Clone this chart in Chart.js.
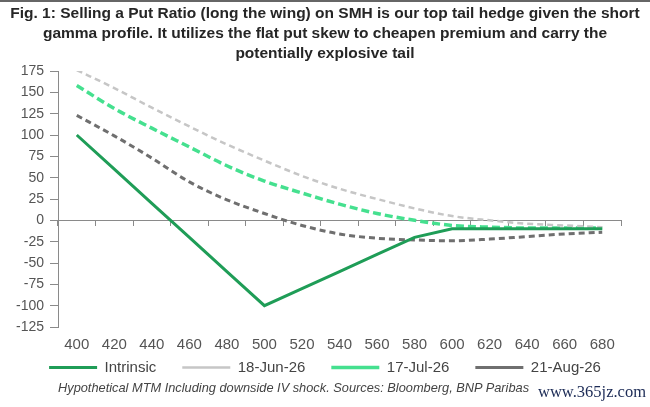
<!DOCTYPE html>
<html><head><meta charset="utf-8">
<script src="https://cdn.jsdelivr.net/npm/chart.js@4.4.1/dist/chart.umd.min.js"></script>
<style>
html,body{margin:0;padding:0;background:#fff;width:650px;height:407px;overflow:hidden;font-family:"Liberation Sans",Arial,sans-serif;}
#topbar{position:absolute;left:0;top:0;width:650px;height:2px;background:#666;}
#title{position:absolute;left:0;top:3px;width:650px;text-align:center;font-weight:bold;font-size:15.5px;line-height:20px;color:#262626;}
#wrap{position:absolute;left:0;top:0;width:650px;height:407px;}
#note{position:absolute;left:58px;top:380px;font-style:italic;font-size:12.8px;color:#444;white-space:nowrap;}
#wm{position:absolute;left:538px;top:382px;font-family:"Liberation Serif","DejaVu Serif",serif;font-size:16.5px;color:#1b2a55;white-space:nowrap;}
</style></head>
<body>
<div id="wrap"><canvas id="c" width="650" height="407"></canvas></div>
<div id="topbar"></div>
<div id="title">Fig. 1: Selling a Put Ratio (long the wing) on SMH is our top tail hedge given the short<br>gamma profile. It utilizes the flat put skew to cheapen premium and carry the<br>potentially explosive tail</div>
<div id="note">Hypothetical MTM Including downside IV shock. Sources: Bloomberg, BNP Paribas</div>
<div id="wm">www.365jz.com</div>
<script>
const strikes = ['400','420','440','460','480','500','520','540','560','580','600','620','640','660','680'];
const intrinsic = [100, 60, 20, -20, -60, -100, -80, -60, -40, -20, -10, -10, -10, -10, -10];
const jun18 = [176, 155, 132, 110, 89, 70, 52, 37, 25, 14, 5, 0, -4, -6, -8];
const jul17 = [158, 131, 108, 86, 64, 46, 32, 19, 8, 0, -6, -8, -9, -9, -9];
const aug21 = [123, 99, 73, 45, 24, 8, -6, -16, -21, -23, -24, -22, -19, -16, -14];
const seriesNames = ['Intrinsic', '18-Jun-26', '17-Jul-26', '21-Aug-26'];

const axisGrey = '#8a8a8a';
const chart = new Chart(document.getElementById('c'), {
  type: 'line',
  data: {
    labels: strikes,
    datasets: [
      {label: seriesNames[0], data: intrinsic, borderColor: '#1f9d57', backgroundColor: '#1f9d57', borderWidth: 3, tension: 0, pointRadius: 0},
      {label: seriesNames[1], data: jun18, borderColor: '#c6c6c6', backgroundColor: '#c6c6c6', borderWidth: 2.5, borderDash: [6, 4], cubicInterpolationMode: 'monotone', pointRadius: 0},
      {label: seriesNames[2], data: jul17, borderColor: '#45e08f', backgroundColor: '#45e08f', borderWidth: 3.5, borderDash: [8, 4], cubicInterpolationMode: 'monotone', pointRadius: 0},
      {label: seriesNames[3], data: aug21, borderColor: '#6f6f6f', backgroundColor: '#6f6f6f', borderWidth: 3, borderDash: [6, 4], cubicInterpolationMode: 'monotone', pointRadius: 0}
    ]
  },
  options: {
    responsive: false,
    animation: false,
    devicePixelRatio: 1,
    layout: {padding: {top: 71, left: 0, right: 0, bottom: 22}},
    plugins: {
      title: {display: false},
      tooltip: {enabled: false},
      legend: {
        position: 'bottom',
        labels: {usePointStyle: true, pointStyle: 'line', pointStyleWidth: 48, font: {family: 'Liberation Sans', size: 15}, color: '#444', padding: 26}
      }
    },
    scales: {
      x: {
        type: 'category', axis: 'x', offset: true, position: {y: -125},
        grid: {display: false}, border: {display: false},
        ticks: {font: {family: 'Liberation Sans', size: 15}, color: '#555', padding: 1, maxRotation: 0, autoSkip: false}
      },
      xs: {
        type: 'category', axis: 'x', labels: strikes, position: 'bottom', display: true,
        grid: {display: false}, border: {display: false}, ticks: {display: false},
        afterFit: s => { s.height = 7; }
      },
      x0: {
        type: 'category', axis: 'x', labels: strikes, offset: true, position: {y: 0},
        grid: {display: true, offset: true, drawOnChartArea: false, drawTicks: true, tickLength: 5, color: axisGrey},
        border: {display: true, color: axisGrey, width: 1},
        ticks: {display: false}
      },
      y: {
        min: -125, max: 175,
        ticks: {stepSize: 25, font: {family: 'Liberation Sans', size: 14}, color: '#555', padding: 6},
        grid: {display: true, drawOnChartArea: false, drawTicks: true, tickLength: 8, color: axisGrey},
        border: {display: true, color: axisGrey},
        afterFit: s => { s.width = 58; }
      },
      yr: {
        position: 'right', display: true,
        grid: {display: false}, border: {display: false}, ticks: {display: false},
        afterFit: s => { s.width = 29; }
      }
    }
  }
});
</script>
</body></html>
